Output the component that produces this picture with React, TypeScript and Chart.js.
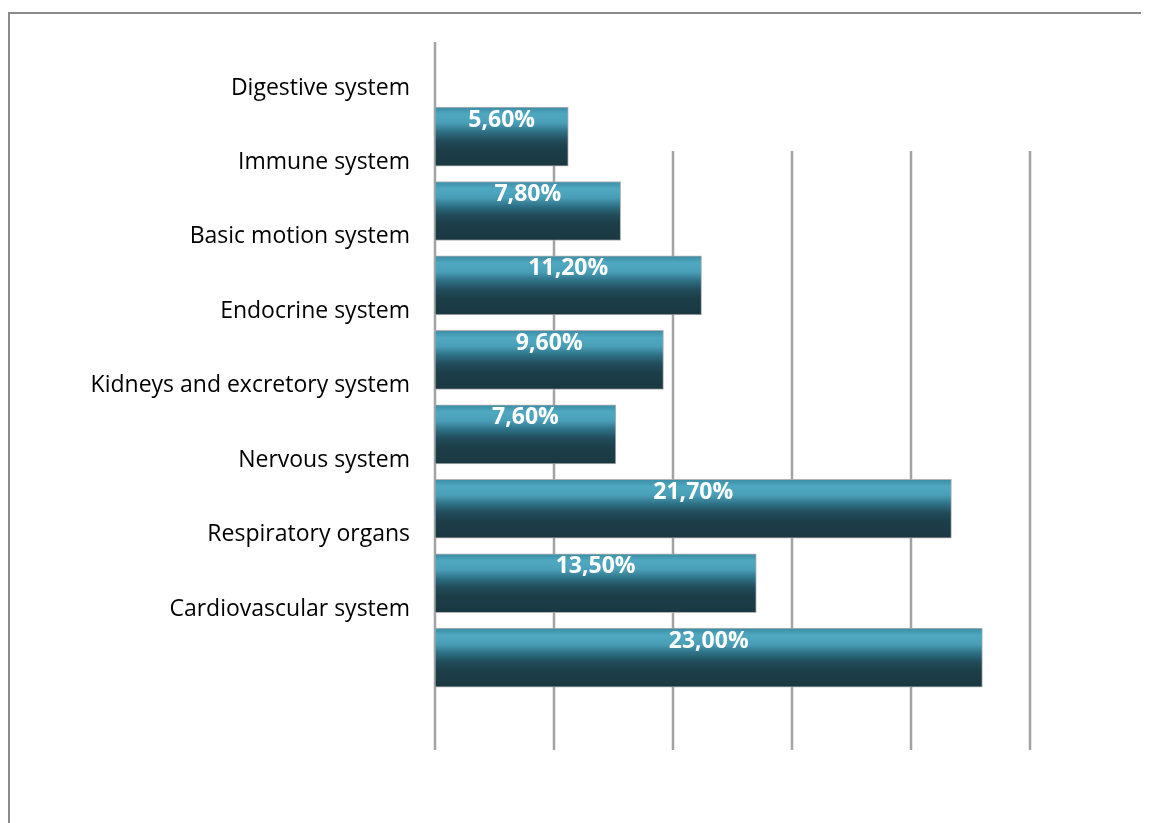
import React, { useEffect, useRef } from "react";
import { Chart, registerables } from "chart.js";

Chart.register(...registerables);

const categories = [
  "Digestive system",
  "Immune system",
  "Basic motion system",
  "Endocrine system",
  "Kidneys and excretory system",
  "Nervous system",
  "Respiratory organs",
  "Cardiovascular system",
];
const values = [5.6, 7.8, 11.2, 9.6, 7.6, 21.7, 13.5, 23.0];
const valueLabels = ["5,60%", "7,80%", "11,20%", "9,60%", "7,60%", "21,70%", "13,50%", "23,00%"];
const xTicks = [0, 5, 10, 15, 20, 25];

const LABEL_SHIFT = -0.652;
const GRID_TOP = 0.194;
const BAR_PX = 59;

const gridPlugin = {
  id: "customGrid",
  beforeDatasetsDraw(chart: any) {
    const { ctx, chartArea } = chart;
    const xs = chart.scales.x;
    const ys = chart.scales.y;
    ctx.save();
    ctx.strokeStyle = "#a3a3a3";
    ctx.lineWidth = 2.5;
    xTicks.forEach((v) => {
      const x = Math.round(xs.getPixelForValue(v));
      const top = v === 0 ? chartArea.top : ys.getPixelForValue(GRID_TOP);
      ctx.beginPath();
      ctx.moveTo(x, top);
      ctx.lineTo(x, chartArea.bottom);
      ctx.stroke();
    });
    ctx.restore();
  },
};

const labelPlugin = {
  id: "valueLabels",
  afterDatasetsDraw(chart: any) {
    const { ctx } = chart;
    const meta = chart.getDatasetMeta(0);
    ctx.save();
    ctx.fillStyle = "#ffffff";
    ctx.font = "bold 23px 'Open Sans'";
    ctx.textAlign = "center";
    ctx.textBaseline = "alphabetic";
    meta.data.forEach((el: any, i: number) => {
      const p = el.getProps(["x", "y", "base", "height"], true);
      const cx = (p.x + p.base) / 2;
      const top = p.y - p.height / 2;
      ctx.fillText(valueLabels[i], cx, top + 19.5);
    });
    ctx.restore();
  },
};

export default function App() {
  const ref = useRef<HTMLCanvasElement | null>(null);

  useEffect(() => {
    if (!ref.current) return;
    const chart = new Chart(ref.current, {
      type: "bar",
      data: {
        datasets: [
          {
            data: values.map((v, i) => ({ x: v, y: i })),
            backgroundColor: (c: any) => {
              const ch = c.chart;
              const ys = ch.scales && ch.scales.y;
              if (!ys || c.type !== "data") return "#1b3a44";
              const yc = ys.getPixelForValue(c.dataIndex);
              if (!isFinite(yc)) return "#1b3a44";
              const g = ch.ctx.createLinearGradient(0, yc - BAR_PX / 2, 0, yc + BAR_PX / 2);
              g.addColorStop(0, "#3a8ca3");
              g.addColorStop(0.12, "#4fa8c1");
              g.addColorStop(0.27, "#4a9fb8");
              g.addColorStop(0.42, "#2e7085");
              g.addColorStop(0.57, "#214c5a");
              g.addColorStop(0.72, "#1c3e49");
              g.addColorStop(1, "#1a3842");
              return g;
            },
            borderColor: "rgba(170,170,170,0.9)",
            borderWidth: 1,
            borderSkipped: false,
            barThickness: BAR_PX,
          } as any,
        ],
      },
      options: {
        indexAxis: "y",
        animation: false,
        responsive: true,
        maintainAspectRatio: false,
        layout: { padding: { left: 0, right: 119, top: 34, bottom: 73 } },
        plugins: {
          legend: { display: false },
          tooltip: { enabled: false },
        },
        scales: {
          x: {
            type: "linear",
            display: false,
            min: 0,
            max: 25,
          },
          y: {
            type: "linear",
            reverse: true,
            offset: false,
            bounds: "data",
            min: -1.27,
            max: 8.24,
            grid: { display: false, drawTicks: false, offset: false },
            border: { display: false },
            afterBuildTicks: (scale: any) => {
              scale.ticks = categories.map((_, i) => ({ value: i + LABEL_SHIFT }));
            },
            afterDataLimits: (scale: any) => {
              scale.min = -1.27;
              scale.max = 8.24;
            },
            afterFit: (scale: any) => {
              scale.width = 427;
              scale.paddingTop = 0;
              scale.paddingBottom = 0;
            },
            ticks: {
              padding: 25,
              color: "#000000",
              font: { family: "'Open Sans'", size: 23 },
              autoSkip: false,
              callback: (_v: any, idx: number) => categories[idx],
            },
          },
        },
      },
      plugins: [gridPlugin, labelPlugin],
    } as any);
    return () => chart.destroy();
  }, []);

  return (
    <div style={{ position: "relative", width: 1141, height: 815 }}>
      <div
        style={{
          position: "absolute",
          left: 0,
          top: 4,
          right: 0,
          bottom: 0,
          borderTop: "2px solid #8c8c8c",
          borderLeft: "2px solid #8c8c8c",
        }}
      />
      <canvas ref={ref} style={{ position: "relative" }} />
    </div>
  );
}
